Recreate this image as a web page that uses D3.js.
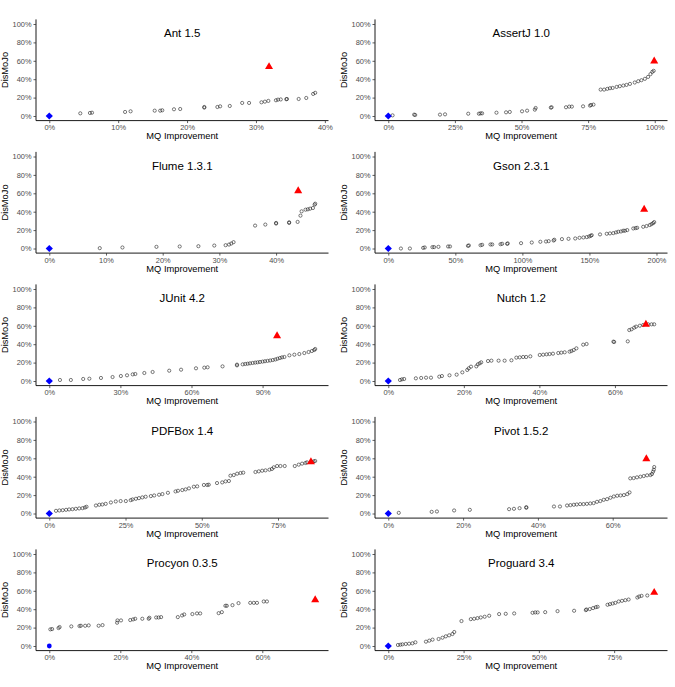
<!DOCTYPE html>
<html>
<head>
<meta charset="utf-8">
<script src="https://cdn.jsdelivr.net/npm/d3@7"></script>
<style>
  body { margin: 0; background: #fff; }
  text { font-family: "Liberation Sans", Arial, sans-serif; }
</style>
</head>
<body>
<div id="chart"></div>
<script>
// one panel per project: [MQ improvement %, DisMoJo %]
let ant = [[4.5,2.9],[5.9,3.3],[6.2,3.6],[11.0,4.4],[11.8,5.1],[15.3,5.8],[16.1,5.8],[16.4,6.2],[18.1,7.3],[19.0,7.6],[22.5,9.1],[22.5,9.8],[24.4,9.8],[24.8,10.5],[26.2,10.9],[28.0,14.2],[29.0,14.2],[30.8,14.9],[31.3,15.6],[31.8,16.4],[32.9,17.1],[33.2,17.8],[33.6,18.0],[34.4,18.2],[34.5,18.5],[36.2,18.5],[37.3,19.6],[38.3,24.0],[38.6,25.2]];
let assertj = [[1.6,0.7],[9.7,1.5],[10.1,1.1],[19.4,1.5],[21.3,1.8],[30.0,2.5],[34.0,2.5],[34.6,2.9],[35.2,2.9],[40.6,3.6],[44.2,4.0],[45.6,4.4],[50.2,5.1],[52.1,5.8],[55.0,6.9],[55.3,8.7],[61.0,9.1],[61.3,9.5],[66.7,9.5],[67.9,10.2],[68.9,10.2],[73.1,10.5],[75.7,11.3],[76.1,12.0],[77.0,12.4],[79.7,28.7],[81.0,28.7],[82.2,29.5],[83.2,30.2],[84.2,30.5],[85.7,31.6],[86.9,32.4],[88.2,33.1],[89.4,33.8],[90.7,34.9],[92.5,36.4],[93.8,37.8],[95.0,38.9],[96.3,40.4],[97.5,42.5],[98.4,45.5],[99.1,48.0],[99.6,49.1]];
let flume = [[8.9,0.4],[12.9,1.1],[18.9,1.8],[23.0,2.2],[26.3,2.5],[29.1,3.2],[31.1,3.6],[31.7,4.3],[32.1,5.4],[32.5,6.9],[36.3,24.9],[38.1,26.0],[40.0,27.1],[40.0,27.8],[42.3,27.8],[42.3,28.5],[43.8,28.9],[44.3,35.7],[44.5,40.4],[45.2,42.2],[45.6,42.6],[46.0,43.3],[46.5,44.0],[46.8,47.7],[46.9,48.7]];
let gson = [[9.4,0],[16.1,0],[26.0,0.7],[27.2,1.1],[32.9,1.5],[34.2,1.5],[37.4,1.8],[44.6,2.2],[46.0,2.2],[59.4,2.9],[60.1,3.3],[68.8,3.6],[70.0,4.0],[76.2,4.4],[77.5,4.4],[83.7,4.7],[84.9,5.1],[88.6,5.1],[89.1,5.5],[99.0,5.8],[107.0,6.5],[113.4,7.3],[117.6,7.6],[119.6,8.0],[123.3,8.7],[123.8,9.5],[129.5,10.2],[134.4,10.5],[139.4,10.9],[142.6,11.6],[145.5,12.0],[148.0,12.4],[149.8,13.1],[151.0,13.8],[151.7,14.5],[157.9,15.3],[162.9,16.0],[165.3,16.4],[167.8,16.7],[169.8,17.5],[171.5,18.2],[173.5,18.5],[175.2,19.3],[176.5,19.3],[178.2,20.0],[182.7,21.8],[184.4,22.2],[185.6,22.5],[190.1,23.6],[192.6,24.4],[195.0,25.5],[196.3,26.5],[197.5,27.6],[198.3,28.7]];
let junit = [[4.5,1.1],[9.1,1.1],[14.3,2.2],[16.9,2.5],[21.8,3.3],[26.7,4.3],[30.2,5.4],[32.8,6.2],[35.2,7.2],[36.3,7.6],[40.1,8.7],[43.6,9.8],[50.6,11.2],[55.6,12.3],[61.9,13.8],[65.4,14.5],[66.8,14.9],[73.1,15.9],[79.2,17.0],[79.2,17.8],[81.6,18.1],[82.7,18.5],[83.7,18.8],[84.7,19.2],[85.8,19.6],[86.9,20.0],[87.9,20.3],[88.9,20.7],[90.0,21.1],[91.0,21.5],[92.1,21.9],[93.2,22.3],[94.3,22.8],[95.4,23.4],[96.3,24.2],[97.3,25.0],[98.2,25.7],[99.2,26.1],[101.3,27.9],[103.4,28.6],[105.5,29.3],[107.6,30.4],[109.4,31.5],[110.8,32.6],[111.8,33.7],[112.2,34.8]];
let nutch = [[3.1,1.1],[3.6,1.8],[4.2,2.2],[7.3,2.9],[8.7,3.3],[10.0,3.6],[11.3,3.6],[13.5,4.7],[14.2,5.4],[16.2,6.2],[18.1,6.9],[19.6,9.4],[20.9,12.0],[21.3,13.8],[21.9,15.6],[23.3,15.9],[23.7,18.1],[24.2,19.2],[24.6,20.3],[26.4,21.7],[27.3,22.1],[29.2,22.1],[30.8,22.1],[32.6,22.5],[33.9,25.4],[34.8,25.7],[35.7,26.1],[36.5,26.1],[37.6,26.8],[40.1,28.3],[41.0,28.6],[41.9,29.0],[42.7,29.3],[43.6,29.7],[45.0,30.4],[45.8,30.8],[46.7,31.2],[48.0,31.9],[48.5,32.6],[49.1,33.7],[49.8,35.5],[51.6,39.5],[52.5,40.2],[59.6,42.8],[59.8,42.4],[63.4,43.1],[63.8,55.4],[64.4,56.2],[65.1,58.0],[65.6,59.1],[66.6,60.1],[67.5,60.9],[68.8,61.6],[69.7,61.6],[70.4,61.6]];
let pdfbox = [[2.2,2.9],[3.3,3.3],[4.4,3.6],[5.5,4.0],[6.5,4.4],[7.6,4.7],[8.7,5.1],[9.8,5.5],[10.9,5.8],[11.7,6.5],[12.2,7.3],[15.3,8.7],[16.4,9.5],[17.4,9.8],[18.5,10.5],[20.2,12.0],[21.8,13.1],[23.4,13.5],[25.1,13.5],[26.7,14.5],[27.3,15.3],[28.4,16.0],[29.4,16.7],[30.5,17.5],[31.6,18.2],[33.3,18.9],[34.4,19.6],[36.0,20.4],[37.1,21.1],[38.9,22.5],[41.4,24.0],[42.2,24.7],[43.6,25.5],[44.7,26.2],[45.8,27.3],[47.4,29.1],[48.5,29.5],[50.7,31.0],[51.8,31.0],[52.3,31.3],[55.0,33.1],[56.7,33.8],[57.8,34.9],[58.9,35.3],[59.4,41.1],[60.5,41.8],[61.6,43.3],[62.7,44.0],[63.6,44.4],[67.6,45.1],[68.7,45.8],[69.8,46.5],[70.9,46.9],[72.2,47.6],[73.0,48.4],[73.6,50.2],[74.7,51.6],[75.8,51.6],[77.2,51.6],[80.5,51.6],[81.8,53.1],[82.9,54.2],[84.0,54.9],[84.5,55.6],[86.1,56.0],[86.7,56.7],[87.2,57.1]];
let pivot = [[2.8,0.7],[11.6,1.8],[13.0,2.2],[17.6,3.3],[21.8,4.0],[32.3,4.7],[33.6,5.1],[35.1,5.8],[36.9,6.2],[36.9,6.9],[44.3,7.6],[45.9,7.6],[47.8,8.7],[48.7,9.1],[49.6,9.5],[50.4,9.8],[51.3,10.2],[52.2,10.2],[53.1,10.5],[54.0,10.9],[54.9,11.3],[55.8,12.7],[56.7,13.5],[57.6,14.9],[58.5,15.6],[59.4,17.1],[60.3,18.5],[61.2,19.3],[62.1,19.6],[63.0,20.0],[63.9,21.1],[64.5,22.9],[64.7,38.2],[65.6,38.5],[66.5,39.3],[67.4,40.0],[68.3,40.7],[69.2,41.5],[70.1,41.8],[70.5,42.9],[70.8,45.5],[71.0,47.6],[71.1,50.5]];
let procyon = [[0.3,18.1],[0.8,18.4],[2.6,19.5],[2.9,20.6],[6.2,21.3],[8.5,21.7],[8.9,22.0],[10.1,22.0],[11.1,22.4],[13.9,22.0],[15.0,22.7],[19.1,25.3],[19.2,27.8],[20.2,27.8],[22.8,28.2],[23.6,28.9],[24.2,29.6],[26.2,29.6],[28.0,29.6],[28.2,30.7],[30.1,31.0],[30.8,31.0],[31.5,31.4],[36.2,31.4],[37.4,33.2],[38.0,34.3],[40.3,34.7],[41.6,35.4],[42.5,35.4],[47.7,35.7],[48.6,36.8],[49.6,43.7],[50.0,43.7],[51.6,44.4],[53.3,46.6],[56.6,46.9],[57.6,46.9],[58.5,46.9],[60.4,48.4],[61.3,48.4]];
let proguard = [[3.2,1.1],[4.0,1.4],[4.7,1.8],[5.8,2.2],[6.9,2.5],[8.0,2.9],[9.0,4.0],[12.5,4.7],[13.6,5.8],[14.7,6.9],[16.7,7.6],[18.0,9.0],[19.1,10.5],[20.2,11.6],[21.3,13.0],[21.9,15.2],[24.3,27.1],[27.4,29.2],[28.5,29.6],[29.6,30.3],[30.7,31.0],[32.0,31.8],[33.5,32.9],[36.8,34.7],[39.0,35.0],[41.8,35.4],[47.9,36.1],[48.8,36.5],[49.6,36.5],[52.1,36.8],[56.2,37.9],[61.7,38.3],[65.6,39.0],[65.8,39.7],[66.9,40.1],[68.0,41.2],[68.9,42.2],[69.5,42.6],[72.8,44.8],[73.6,45.5],[74.5,46.2],[75.4,46.9],[76.5,48.4],[77.6,49.1],[78.7,49.8],[79.8,50.5],[82.7,52.7],[83.3,53.8],[84.1,54.5],[86.0,54.9]];

let titles = ["Ant 1.5", "AssertJ 1.0", "Flume 1.3.1", "Gson 2.3.1", "JUnit 4.2", "Nutch 1.2", "PDFBox 1.4", "Pivot 1.5.2", "Procyon 0.3.5", "Proguard 3.4"];
let pointSets = [ant, assertj, flume, gson, junit, nutch, pdfbox, pivot, procyon, proguard];
// red triangle (best result) per panel
let triangles = [[31.9,53.5],[99.8,59.6],[43.9,62.5],[190.8,42.5],[96.1,48.9],[68.2,61.6],[85.8,56.0],[69.0,59.3],[74.9,50.2],[88.3,58.1]];
// blue marker at the origin, procyon uses a dot instead of a diamond
let origins = [[0,0],[0,0],[0,0],[0,0],[0,0],[0,0],[0,0],[0,0],[0,0],[0,0]];
let originShape = ["diamond","diamond","diamond","diamond","diamond","diamond","diamond","diamond","circle","diamond"];
let xTicks = [[0,10,20,30,40],[0,25,50,75,100],[0,10,20,30,40],[0,50,100,150,200],[0,30,60,90],[0,20,40,60],[0,25,50,75],[0,20,40,60],[0,20,40,60],[0,25,50,75]];
let yTicks = [0,20,40,60,80,100];

let width = 675;
let height = 687;
let colLeft = [36, 375];
let panelW = 292.5;
let panelTop = 19.4;
let panelH = 101.2;
let rowPitch = 132.5;

let svg = d3.select("#chart")
    .append("svg")
    .attr("width", width)
    .attr("height", height);

titles.forEach((title, i) => {
    let col = i % 2;
    let row = Math.floor(i / 2);
    let left = colLeft[col];
    let top = panelTop + row * rowPitch;

    let pts = pointSets[i];
    let xMax = d3.max(pts.concat([triangles[i]]), d => d[0]);
    let xPad = xMax * 0.05;

    let x = d3.scaleLinear()
        .domain([-xPad, xMax + xPad])
        .range([left, left + panelW]);
    let y = d3.scaleLinear()
        .domain([-5, 105])
        .range([top + panelH, top]);

    let g = svg.append("g");

    // axes
    let xAxis = g.append("g")
        .attr("transform", "translate(0," + (top + panelH) + ")")
        .call(d3.axisBottom(x).tickValues(xTicks[i]).tickSize(2.5).tickPadding(2).tickFormat(d => d + "%"));
    let yAxis = g.append("g")
        .attr("transform", "translate(" + left + ",0)")
        .call(d3.axisLeft(y).tickValues(yTicks).tickSize(2.5).tickPadding(2).tickFormat(d => d + "%"));

    [xAxis, yAxis].forEach(a => {
        a.select(".domain").attr("stroke", "#000").attr("stroke-width", 0.9);
        a.selectAll(".tick line").attr("stroke", "#333").attr("stroke-width", 0.8);
        a.selectAll(".tick text")
            .attr("fill", "#4d4d4d")
            .style("font-size", "7.4px")
            .style("font-family", "'Liberation Sans', Arial, sans-serif");
    });
    xAxis.select(".domain").attr("d", "M" + left + ",0H" + (left + panelW));
    yAxis.select(".domain").attr("d", "M0," + top + "V" + (top + panelH));

    // axis titles
    g.append("text")
        .attr("x", left + panelW / 2)
        .attr("y", top + panelH + 18.4)
        .attr("text-anchor", "middle")
        .style("font-size", "9.3px")
        .text("MQ Improvement");
    g.append("text")
        .attr("transform", "translate(" + (left - 27.8) + "," + (top + panelH / 2) + ") rotate(-90)")
        .attr("text-anchor", "middle")
        .style("font-size", "9.3px")
        .text("DisMoJo");

    // panel title
    g.append("text")
        .attr("x", left + panelW / 2)
        .attr("y", y(90) + 4)
        .attr("text-anchor", "middle")
        .style("font-size", "11.5px")
        .text(title);

    // points
    g.selectAll("circle.pt")
        .data(pts)
        .enter()
        .append("circle")
        .attr("class", "pt")
        .attr("cx", d => x(d[0]))
        .attr("cy", d => y(d[1]))
        .attr("r", 1.6)
        .attr("fill", "none")
        .attr("stroke", "#222")
        .attr("stroke-width", 0.6);

    g.append("path")
        .attr("d", d3.symbol(d3.symbolTriangle, 28)())
        .attr("transform", "translate(" + x(triangles[i][0]) + "," + y(triangles[i][1]) + ")")
        .attr("fill", "#ff0000");

    let o = origins[i];
    if (originShape[i] == "circle") {
        g.append("circle")
            .attr("cx", x(o[0]))
            .attr("cy", y(o[1]))
            .attr("r", 2.4)
            .attr("fill", "#0000ff");
    } else {
        g.append("path")
            .attr("d", d3.symbol(d3.symbolSquare, 26)())
            .attr("transform", "translate(" + x(o[0]) + "," + y(o[1]) + ") rotate(45)")
            .attr("fill", "#0000ff");
    }
});
</script>
</body>
</html>
